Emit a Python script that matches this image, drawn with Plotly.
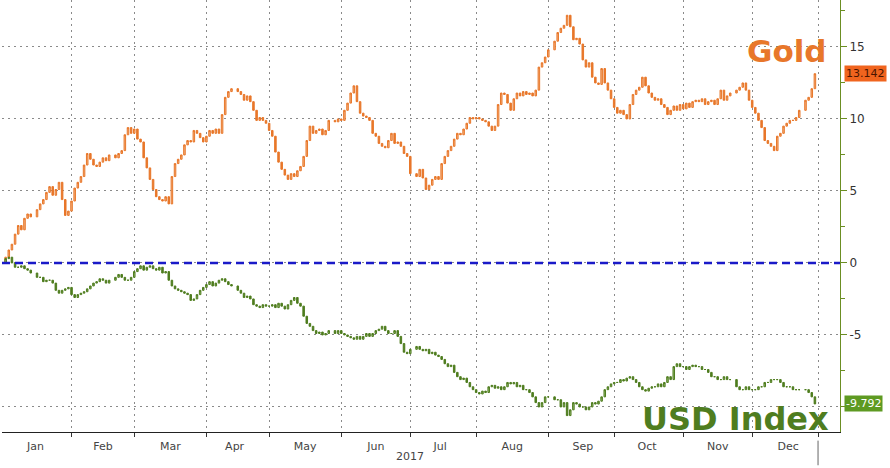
import plotly.graph_objects as go
import pandas as pd

# ---------------- data (percent change since start of 2017, daily closes) ----------------
holidays = ["2017-01-02", "2017-01-16", "2017-02-20", "2017-04-14", "2017-05-29",
            "2017-07-04", "2017-09-04", "2017-11-23", "2017-12-25"]

gold_close = [
    # Jan
    0.4, 0.9, 1.3, 2.0, 2.6, 2.3, 3.1, 3.4, 3.2, 3.7, 4.1, 4.4, 4.9, 5.3, 4.7, 5.1, 5.6, 4.4, 3.3, 3.6,
    # Feb
    4.3, 5.2, 5.6, 6.0, 6.8, 7.6, 7.2, 6.8, 6.7, 7.0, 7.3, 7.1, 7.5, 7.3, 7.6, 7.8, 8.9, 9.4, 9.0,
    # Mar
    9.3, 8.6, 8.4, 7.3, 6.6, 5.8, 5.1, 4.6, 4.4, 4.3, 4.6, 4.1, 6.0, 6.9, 7.2, 7.5, 8.2, 8.5, 8.4, 9.2, 9.0, 8.7, 8.4,
    # Apr
    8.8, 9.2, 9.0, 9.3, 9.0, 10.3, 11.5, 11.9, 12.1, 11.9, 11.7, 11.3, 11.6, 11.2, 10.6, 9.9, 10.1, 9.9, 9.7,
    # May
    9.2, 8.8, 7.7, 7.0, 6.5, 6.1, 5.8, 6.2, 6.0, 6.4, 6.7, 7.4, 8.5, 9.5, 9.0, 9.2, 9.3, 8.9, 9.2, 9.9, 9.8, 10.0,
    # Jun
    9.9, 10.6, 11.1, 11.8, 12.3, 11.2, 10.4, 10.2, 10.1, 9.9, 9.0, 8.8, 8.3, 8.1, 8.0, 8.5, 9.0, 8.3, 8.4, 8.1, 7.6, 7.4,
    # Jul
    6.2, 6.0, 6.5, 5.9, 5.1, 5.4, 5.8, 6.0, 5.8, 6.9, 7.4, 7.8, 8.1, 8.6, 9.0, 8.9, 9.3, 9.7, 10.1, 10.0,
    # Aug
    10.1, 10.0, 9.9, 9.8, 9.5, 9.2, 9.5, 11.0, 11.8, 11.7, 11.1, 10.6, 11.4, 11.8, 11.6, 11.9, 11.7, 11.8, 11.6, 12.0, 13.6, 13.9, 14.3,
    # Sep
    14.8, 15.4, 16.0, 16.3, 16.5, 17.2, 16.4, 15.5, 15.6, 15.2, 14.1, 13.6, 13.9, 12.9, 12.5, 12.4, 13.5, 12.5, 12.0, 11.4,
    # Oct
    10.8, 10.4, 10.6, 10.3, 10.0, 11.0, 11.7, 12.0, 12.2, 12.9, 12.3, 11.8, 11.5, 11.3, 11.4, 11.0, 10.8, 10.3, 10.6, 10.9, 10.6, 11.0,
    # Nov
    10.7, 11.1, 10.8, 11.2, 11.3, 11.2, 11.4, 11.0, 11.2, 11.3, 11.0, 11.4, 12.0, 11.3, 11.6, 11.8, 12.0, 12.2, 12.5, 12.0, 11.3,
    # Dec
    10.8, 10.4, 9.9, 9.4, 8.5, 8.3, 8.1, 7.8, 8.8, 9.0, 9.5, 9.7, 9.9, 9.9, 10.1, 10.6, 11.3, 11.5, 12.1, 13.142,
]

usd_close = [
    # Jan
    0.3, 0.4, 0.0, -0.3, -0.3, -0.2, -0.4, -0.5, -0.7, -1.0, -1.0, -1.3, -1.2, -1.2, -1.4, -1.9, -2.1, -1.9, -1.8, -1.7,
    # Feb
    -2.2, -2.4, -2.2, -2.1, -2.0, -1.8, -1.6, -1.4, -1.3, -1.1, -1.2, -1.4, -1.2, -1.0, -0.8, -1.0, -1.2, -1.2, -1.0,
    # Mar
    -0.6, -0.4, -0.2, -0.5, -0.3, -0.2, -0.4, -0.5, -0.3, -0.7, -0.6, -1.2, -1.6, -1.8, -1.9, -2.0, -2.1, -2.2, -2.6, -2.5, -2.2, -1.9, -1.7,
    # Apr
    -1.5, -1.3, -1.6, -1.4, -1.2, -1.1, -1.3, -1.5, -1.6, -1.9, -2.1, -2.4, -2.3, -2.5, -2.9, -3.0, -3.1, -2.9, -3.0,
    # May
    -3.0, -2.9, -3.1, -2.8, -3.0, -3.2, -2.9, -2.6, -2.4, -2.8, -3.0, -3.7, -4.2, -4.4, -4.7, -4.9, -4.8, -5.0, -4.9, -4.7, -4.9, -4.7,
    # Jun
    -4.9, -5.0, -5.1, -5.2, -5.3, -5.1, -5.3, -5.1, -4.9, -5.1, -4.9, -4.7, -4.6, -4.4, -4.7, -4.9, -4.9, -4.7, -5.1, -5.6, -6.2, -6.3,
    # Jul
    -6.0, -5.8, -6.0, -6.1, -6.0, -6.3, -6.2, -6.4, -6.5, -6.7, -7.0, -7.2, -7.1, -7.6, -7.9, -8.1, -8.0, -8.3, -8.6, -8.8,
    # Aug
    -9.0, -9.1, -8.9, -9.0, -8.6, -8.5, -8.7, -8.6, -8.8, -8.6, -8.3, -8.4, -8.3, -8.6, -8.5, -8.8, -8.8, -9.0, -9.3, -9.7, -10.0, -9.7, -9.3,
    # Sep
    -9.3, -9.5, -9.5, -10.0, -9.7, -10.6, -10.2, -9.7, -9.8, -10.0, -10.0, -10.2, -10.0, -9.7, -9.8, -9.6, -9.3, -8.8, -8.6, -8.4,
    # Oct
    -8.3, -8.3, -8.1, -8.2, -8.0, -7.9, -8.1, -8.3, -8.6, -8.8, -8.9, -8.7, -8.6, -8.6, -8.4, -8.6, -8.3, -7.9, -8.1, -7.2, -7.0, -7.2,
    # Nov
    -7.2, -7.4, -7.2, -7.1, -7.2, -7.2, -7.4, -7.4, -7.6, -7.9, -7.9, -8.1, -8.1, -7.9, -8.1, -8.1, -8.6, -8.8, -8.8, -8.6, -8.8,
    # Dec
    -8.8, -8.8, -8.6, -8.6, -8.3, -8.3, -8.1, -8.1, -8.1, -8.3, -8.6, -8.6, -8.6, -8.8, -8.8, -8.8, -8.8, -9.0, -9.3, -9.792,
]

y_tick_vals = [-10, -5, 0, 5, 10, 15]
y_tick_text = ["", "-5", "0", "5", "10", "15"]
y_minor_vals = [-7.5, -2.5, 2.5, 7.5, 12.5, 17.5]

gold_last_label = "13.142"
usd_last_label = "-9.792"

# ---------------- build ----------------
dates = [d for d in pd.bdate_range("2017-01-02", "2017-12-29")
         if d.strftime("%Y-%m-%d") not in holidays]


def ohlc(closes):
    opens = [0.0] + closes[:-1]
    highs = [max(o, c) for o, c in zip(opens, closes)]
    lows = [min(o, c) for o, c in zip(opens, closes)]
    return opens, highs, lows


g_open, g_high, g_low = ohlc(gold_close)
u_open, u_high, u_low = ohlc(usd_close)

GOLD = "#e8772a"
GOLD_LIGHT = "#f3b07e"
GREEN = "#4f7d1f"
GREEN_LIGHT = "#93b56a"
AXIS_GREEN = "#6b8e23"
GRID = "#8a8a8a"
FONT = "DejaVu Sans"

fig = go.Figure()
fig.add_trace(go.Candlestick(
    x=dates, open=g_open, high=g_high, low=g_low, close=gold_close,
    increasing=dict(line=dict(color=GOLD, width=1), fillcolor=GOLD_LIGHT),
    decreasing=dict(line=dict(color=GOLD, width=1), fillcolor=GOLD),
    whiskerwidth=0, showlegend=False, name="Gold",
))
fig.add_trace(go.Candlestick(
    x=dates, open=u_open, high=u_high, low=u_low, close=usd_close,
    increasing=dict(line=dict(color=GREEN, width=1), fillcolor=GREEN_LIGHT),
    decreasing=dict(line=dict(color=GREEN, width=1), fillcolor=GREEN),
    whiskerwidth=0, showlegend=False, name="USD Index",
))

fig.update_layout(
    width=890, height=468,
    margin=dict(l=2, r=50, t=0, b=36),
    paper_bgcolor="white", plot_bgcolor="white",
    font=dict(family=FONT, size=11, color="#333333"),
    showlegend=False,
    xaxis=dict(
        type="date",
        range=["2016-12-30 20:00", "2018-01-10"],
        rangebreaks=[dict(bounds=["sat", "mon"])],
        rangeslider=dict(visible=False),
        tick0="2017-01-01", dtick="M1", tickformat="%b",
        ticklabelmode="period",
        ticks="outside", ticklen=4, tickcolor="#333333",
        showline=True, linecolor="#222222", linewidth=1,
        showgrid=True, gridcolor=GRID, griddash="2px,4px", gridwidth=1,
        tickfont=dict(family=FONT, size=11, color="#444444"),
        zeroline=False,
    ),
    yaxis=dict(
        side="right",
        range=[-11.74, 18.26],
        tickmode="array", tickvals=y_tick_vals, ticktext=y_tick_text,
        ticks="outside", ticklen=6, tickcolor=AXIS_GREEN,
        showline=True, linecolor=AXIS_GREEN, linewidth=1,
        showgrid=True, gridcolor=GRID, griddash="2px,4px", gridwidth=1,
        zeroline=False,
        tickfont=dict(family=FONT, size=12, color="#333333"),
        minor=dict(tickmode="array", tickvals=y_minor_vals, ticks="outside",
                   ticklen=4, tickcolor=AXIS_GREEN, showgrid=False),
    ),
    shapes=[
        dict(type="line", xref="paper", x0=0, x1=1, yref="y", y0=0, y1=0,
             line=dict(color="#1a1ac8", width=2.5, dash="8px,5px"), layer="above"),
        dict(type="line", xref="x", x0="2018-01-01", x1="2018-01-01",
             yref="paper", y0=-0.02, y1=-0.077,
             line=dict(color="#666666", width=1)),
    ],
    annotations=[
        dict(text="<b>Gold</b>", xref="paper", yref="paper", x=0.937, y=0.882,
             xanchor="center", yanchor="middle", showarrow=False,
             font=dict(family=FONT, size=31, color=GOLD)),
        dict(text="<b>USD Index</b>", xref="paper", yref="paper", x=0.875, y=0.030,
             xanchor="center", yanchor="middle", showarrow=False,
             font=dict(family=FONT, size=32, color=GREEN)),
        dict(text=gold_last_label, xref="paper", yref="y", x=1, y=gold_close[-1],
             xanchor="left", yanchor="middle", xshift=4, showarrow=False,
             bgcolor="#f0641e", borderpad=1,
             font=dict(family=FONT, size=11, color="#4a1500")),
        dict(text=usd_last_label, xref="paper", yref="y", x=1, y=usd_close[-1],
             xanchor="left", yanchor="middle", xshift=4, showarrow=False,
             bgcolor="#5e9a22", borderpad=1,
             font=dict(family=FONT, size=11, color="white")),
        dict(text="2017", xref="x", yref="paper", x="2017-07-03", y=0,
             xanchor="center", yanchor="top", yshift=-16, showarrow=False,
             font=dict(family=FONT, size=11, color="#444444")),
    ],
)

fig.write_html("out.html")
